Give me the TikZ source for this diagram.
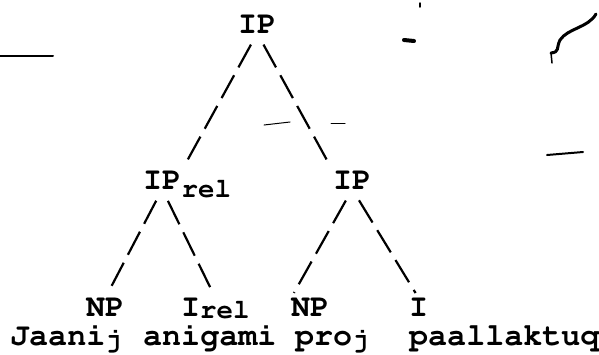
\documentclass[tikz,border=0pt]{standalone}
\usepackage[T1]{fontenc}
\usepackage{courier}
\newcommand{\low}[2][2pt]{\raisebox{-#1}{\fontsize{27.5}{27.5}\selectfont #2}}
\begin{document}
\begin{tikzpicture}[x=1pt, y=-1pt,
	lbl/.style={anchor=base west, inner sep=0pt, font=\ttfamily\bfseries\fontsize{31.7}{31.7}\selectfont},
	branch/.style={line width=2.2pt, dash pattern=on 26pt off 9pt, shorten <=13pt, shorten >=6pt},
	speck/.style={line width=2pt, line cap=round}]

	\useasboundingbox (0,0) rectangle (599,354);

	\node[lbl] (ip) at (238,33) {IP};

	\node[lbl] (iprel) at (143,189) {IP};
	\node[lbl] (iprelsub) at ([yshift=-8pt]iprel.base east) {\fontsize{27.5}{27.5}\selectfont rel};
	\node[lbl] (ipr) at (333,189) {IP};

	\node[lbl] (np) at (86,316) {NP};
	\node[lbl] (irel) at (181,316) {I\low{rel}};
	\node[lbl] (npr) at (291,316) {NP};
	\node[lbl] (ir) at (409,316) {I};

	\node[lbl] (jaani) at (10,345) {Jaani\low{j}};
	\node[lbl] (anigami) at (143,345) {anigami};
	\node[lbl] (pro) at (295,345) {pro\low{j}};
	\node[lbl] (paallaktuq) at (409,345) {paallaktuq};

	\draw[branch] (ip.south) -- (iprel.north east);
	\draw[branch] (ip.south) -- (ipr.north west);
	\draw[branch] (iprel.south) -- (np.north);
	\draw[branch] (iprel.south) -- (irel.north);
	\draw[branch] (ipr.south) -- (npr.north west);
	\draw[branch] (ipr.south) -- (ir.north);

	\draw[speck] (0,56) -- (53,56);
	\draw[speck, line width=4pt] (404,40) -- (414,41);
	\draw[speck, line width=1.5pt] (420,3) -- (420,7);
	\draw[speck, line width=3pt] (596,14) .. controls (588,28) and (568,28) .. (560,40) .. controls (556,48) and (560,52) .. (551,53);
	\draw[speck, line width=1.5pt] (551,53) -- (552,63);
	\draw[speck, line width=1pt] (264,125) -- (290,122);
	\draw[speck, line width=1pt] (331,123) -- (345,123);
	\draw[speck] (547,155) -- (583,152);
\end{tikzpicture}
\end{document}
